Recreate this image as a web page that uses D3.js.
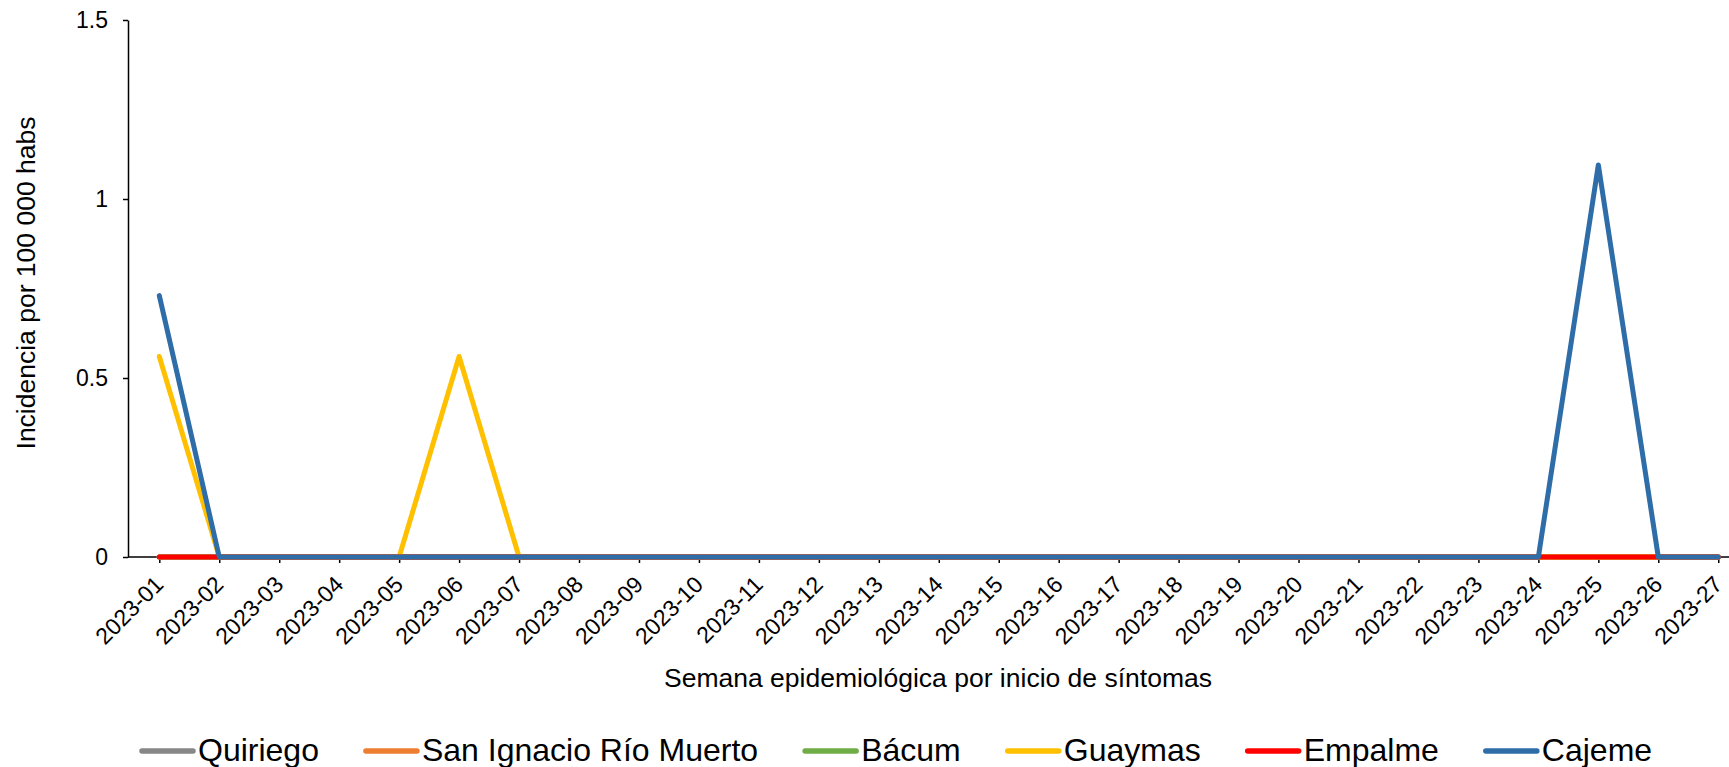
<!DOCTYPE html>
<html>
<head>
<meta charset="utf-8">
<script src="https://cdn.jsdelivr.net/npm/d3@7"></script>
<style>
  body { margin: 0; background: #fff; }
  text { font-family: "Liberation Sans", Arial, sans-serif; fill: #000; }
</style>
</head>
<body>
<div id="chart"></div>
<script>
// semanas epidemiologicas 2023-01 .. 2023-27
var weeks = ['2023-01', '2023-02', '2023-03', '2023-04', '2023-05', '2023-06', '2023-07',
  '2023-08', '2023-09', '2023-10', '2023-11', '2023-12', '2023-13', '2023-14', '2023-15',
  '2023-16', '2023-17', '2023-18', '2023-19', '2023-20', '2023-21', '2023-22', '2023-23',
  '2023-24', '2023-25', '2023-26', '2023-27'];

var quiriego   = [0, 0, 0, 0, 0, 0, 0, 0, 0, 0, 0, 0, 0, 0, 0, 0, 0, 0, 0, 0, 0, 0, 0, 0, 0, 0, 0];
var sanIgnacio = [0, 0, 0, 0, 0, 0, 0, 0, 0, 0, 0, 0, 0, 0, 0, 0, 0, 0, 0, 0, 0, 0, 0, 0, 0, 0, 0];
var bacum      = [0, 0, 0, 0, 0, 0, 0, 0, 0, 0, 0, 0, 0, 0, 0, 0, 0, 0, 0, 0, 0, 0, 0, 0, 0, 0, 0];
var guaymas    = [0.56, 0, 0, 0, 0, 0.56, 0, 0, 0, 0, 0, 0, 0, 0, 0, 0, 0, 0, 0, 0, 0, 0, 0, 0, 0, 0, 0];
var empalme    = [0, 0, 0, 0, 0, 0, 0, 0, 0, 0, 0, 0, 0, 0, 0, 0, 0, 0, 0, 0, 0, 0, 0, 0, 0, 0, 0];
var cajeme     = [0.73, 0, 0, 0, 0, 0, 0, 0, 0, 0, 0, 0, 0, 0, 0, 0, 0, 0, 0, 0, 0, 0, 0, 0, 1.095, 0, 0];

var seriesNames = ['Quiriego', 'San Ignacio Río Muerto', 'Bácum', 'Guaymas', 'Empalme', 'Cajeme'];
var seriesValues = [quiriego, sanIgnacio, bacum, guaymas, empalme, cajeme];
var colors = ['#878787', '#ED7D31', '#70AD47', '#FFC000', '#FF0000', '#2E6DA8'];

var yTicks = [0, 0.5, 1, 1.5];

(function() {
  var width = 1729, height = 767;
  var left = 128, top = 20, bottom = 557;

  var svg = d3.select('#chart').append('svg')
    .attr('width', width)
    .attr('height', height);

  var x = d3.scalePoint()
    .domain(weeks)
    .range([159.3, 159.3 + 26 * 59.96]);

  var y = d3.scaleLinear()
    .domain([0, 1.5])
    .range([bottom, top]);

  // eje y
  var yAxis = svg.append('g')
    .attr('transform', 'translate(' + left + ',0)')
    .call(d3.axisLeft(y).tickValues(yTicks).tickSize(5).tickSizeOuter(0).tickPadding(15)
      .tickFormat(function(d) { return String(d); }));
  yAxis.select('.domain').attr('stroke', '#000').attr('stroke-width', 1.5);
  yAxis.selectAll('.tick line').attr('stroke', '#000').attr('stroke-width', 1.5);
  yAxis.selectAll('.tick text').attr('font-size', 23).attr('font-family', '"Liberation Sans", Arial, sans-serif');

  // eje x
  svg.append('line')
    .attr('x1', left).attr('x2', width)
    .attr('y1', bottom).attr('y2', bottom)
    .attr('stroke', '#000').attr('stroke-width', 1.5);

  var xAxis = svg.append('g')
    .attr('transform', 'translate(0,' + bottom + ')')
    .call(d3.axisBottom(x).tickSize(6).tickSizeOuter(0));
  xAxis.select('.domain').remove();
  xAxis.selectAll('.tick line').attr('stroke', '#000').attr('stroke-width', 1.5);
  xAxis.selectAll('.tick text')
    .attr('font-size', 23)
    .attr('font-family', '"Liberation Sans", Arial, sans-serif')
    .attr('text-anchor', 'end')
    .attr('dy', null)
    .attr('y', null)
    .attr('transform', 'translate(5,29) rotate(-45)');

  // lineas
  var line = d3.line()
    .x(function(d, i) { return x(weeks[i]); })
    .y(function(d) { return y(d); });

  seriesValues.forEach(function(vals, j) {
    svg.append('path')
      .attr('d', line(vals))
      .attr('fill', 'none')
      .attr('stroke', colors[j])
      .attr('stroke-width', 5)
      .attr('stroke-linecap', 'round')
      .attr('stroke-linejoin', 'round');
  });

  // titulos
  svg.append('text')
    .attr('x', 938)
    .attr('y', 687)
    .attr('text-anchor', 'middle')
    .attr('font-size', 26.5)
    .text('Semana epidemiológica por inicio de síntomas');

  svg.append('text')
    .attr('transform', 'translate(35,283) rotate(-90)')
    .attr('text-anchor', 'middle')
    .attr('font-size', 26.5)
    .text('Incidencia por 100 000 habs');

  // leyenda
  var lx = 140, ly = 751;
  seriesNames.forEach(function(name, j) {
    svg.append('line')
      .attr('x1', lx + 2).attr('x2', lx + 53)
      .attr('y1', ly).attr('y2', ly)
      .attr('stroke', colors[j])
      .attr('stroke-width', 5.5)
      .attr('stroke-linecap', 'round');
    var t = svg.append('text')
      .attr('x', lx + 58)
      .attr('y', ly + 10)
      .attr('font-size', 32)
      .text(name);
    lx += 58 + t.node().getComputedTextLength() + 45;
  });
})();
</script>
</body>
</html>
